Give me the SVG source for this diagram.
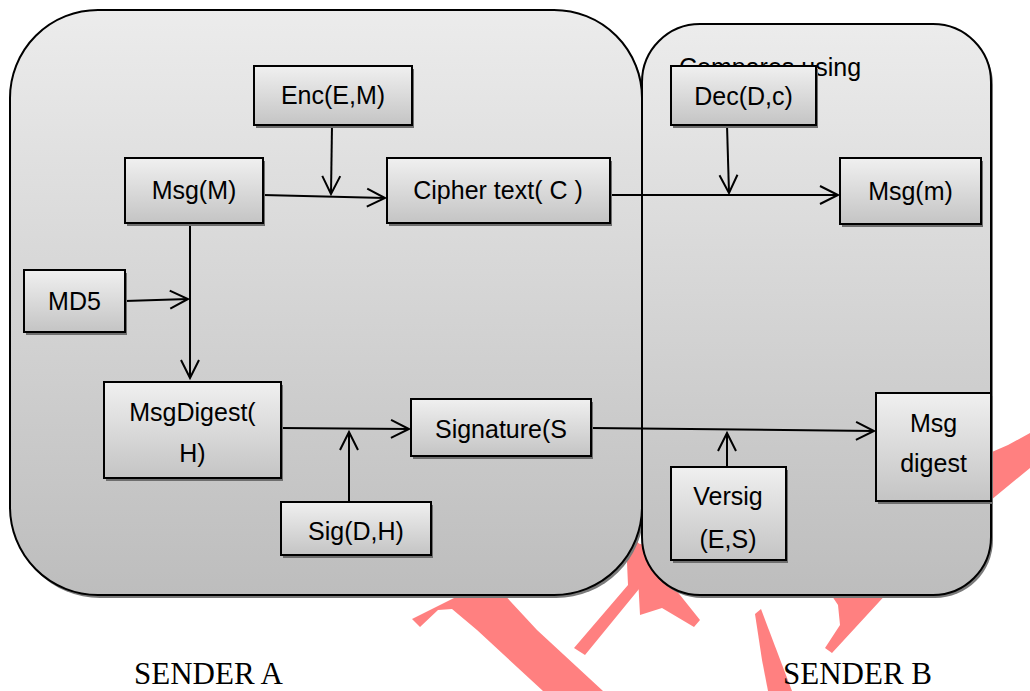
<svg xmlns="http://www.w3.org/2000/svg" width="1030" height="691" viewBox="0 0 1030 691">
<defs>
<linearGradient id="gPanel" x1="0" y1="0" x2="0" y2="1">
<stop offset="0" stop-color="#ececec"/>
<stop offset="1" stop-color="#bdbdbd"/>
</linearGradient>
<linearGradient id="gBox" x1="0" y1="0" x2="0" y2="1">
<stop offset="0" stop-color="#f0f0f0"/>
<stop offset="1" stop-color="#c4c4c4"/>
</linearGradient>
<marker id="arr" markerUnits="userSpaceOnUse" markerWidth="22" markerHeight="22" refX="19" refY="11" orient="auto">
<path d="M1,2 L19,11 L1,20" fill="none" stroke="#000" stroke-width="2"/>
</marker>
</defs>
<style>
.wm{fill:#ff8080;stroke:none}
.panel{fill:url(#gPanel);stroke:#000;stroke-width:2}
.pshadow{fill:#7a7a7a}
.box{fill:url(#gBox);stroke:#000;stroke-width:2}
.bshadow{fill:#6e6e6e}
.lbl{font-family:"Liberation Sans",Arial,sans-serif;font-size:25px;fill:#000;text-anchor:middle}
.cap{font-family:"Liberation Serif","Times New Roman",serif;font-size:31px;fill:#000}
.conn{fill:none;stroke:#000;stroke-width:2}
</style>
<g id="watermark">
<polygon class="wm" points="412,619 420,627 438,610 452,609 477,630 543,691 603,691 537,630 500,590 470,590"/>
<polygon class="wm" points="626,540 644,545 648,578 585,655 574,648 628,585"/>
<polygon class="wm" points="636,540 700,620 694,627 662,608 640,615"/>
<polygon class="wm" points="755,614 761,609 792,691 768,691 762,660"/>
<polygon class="wm" points="828,590 890,590 832,653 825,648 840,625 838,605"/>
<polygon class="wm" points="985,455 1008,445 1030,433 1030,468 985,505"/>
</g>
<g id="senderA-panel">
<rect class="pshadow" x="12" y="13" width="632" height="585" rx="88" ry="88"/>
<rect class="panel" x="10" y="10" width="632" height="585" rx="88" ry="88"/>
</g>
<g id="senderB-panel">
<rect class="pshadow" x="644" y="27" width="349" height="571" rx="58" ry="58"/>
<rect class="panel" x="642" y="24" width="349" height="571" rx="58" ry="58"/>
<text class="lbl" x="679" y="76" style="text-anchor:start">Compares using</text>
</g>
<g id="connectors">
<line class="conn" x1="263" y1="195" x2="385" y2="198" marker-end="url(#arr)"/>
<line class="conn" x1="332" y1="125" x2="331" y2="194" marker-end="url(#arr)"/>
<line class="conn" x1="190" y1="223" x2="190" y2="378" marker-end="url(#arr)"/>
<line class="conn" x1="125" y1="301" x2="188" y2="299" marker-end="url(#arr)"/>
<line class="conn" x1="281" y1="428" x2="409" y2="429" marker-end="url(#arr)"/>
<line class="conn" x1="349" y1="502" x2="349" y2="432" marker-end="url(#arr)"/>
<line class="conn" x1="610" y1="195" x2="838" y2="195" marker-end="url(#arr)"/>
<line class="conn" x1="727" y1="125" x2="729" y2="193" marker-end="url(#arr)"/>
<line class="conn" x1="591" y1="428" x2="874" y2="431" marker-end="url(#arr)"/>
<line class="conn" x1="727" y1="467" x2="727" y2="433" marker-end="url(#arr)"/>
</g>
<g id="enc">
<rect class="bshadow" x="256" y="69" width="158" height="59"/>
<rect class="box" x="254" y="66" width="158" height="59"/>
<text class="lbl" x="333" y="104">Enc(E,M)</text>
</g>
<g id="msgM">
<rect class="bshadow" x="127" y="161" width="138" height="65"/>
<rect class="box" x="125" y="158" width="138" height="65"/>
<text class="lbl" x="194" y="199">Msg(M)</text>
</g>
<g id="cipher">
<rect class="bshadow" x="389" y="161" width="223" height="65"/>
<rect class="box" x="387" y="158" width="223" height="65"/>
<text class="lbl" x="498" y="199">Cipher text( C )</text>
</g>
<g id="md5">
<rect class="bshadow" x="26" y="273" width="101" height="62"/>
<rect class="box" x="24" y="270" width="101" height="62"/>
<text class="lbl" x="74.5" y="310">MD5</text>
</g>
<g id="msgdigestH">
<rect class="bshadow" x="106" y="385" width="177" height="96"/>
<rect class="box" x="104" y="382" width="177" height="96"/>
<text class="lbl" x="192.5" y="421">MsgDigest(</text>
<text class="lbl" x="192.5" y="462">H)</text>
</g>
<g id="signature">
<rect class="bshadow" x="413" y="402" width="180" height="57"/>
<rect class="box" x="411" y="399" width="180" height="57"/>
<text class="lbl" x="501" y="438">Signature(S</text>
</g>
<g id="sig">
<rect class="bshadow" x="283" y="505" width="150" height="53"/>
<rect class="box" x="281" y="502" width="150" height="53"/>
<text class="lbl" x="356" y="540">Sig(D,H)</text>
</g>
<g id="dec">
<rect class="bshadow" x="673" y="69" width="145" height="59"/>
<rect class="box" x="671" y="66" width="145" height="59"/>
<text class="lbl" x="743.5" y="105">Dec(D,c)</text>
</g>
<g id="msgm">
<rect class="bshadow" x="842" y="161" width="141" height="66"/>
<rect class="box" x="840" y="158" width="141" height="66"/>
<text class="lbl" x="910.5" y="200">Msg(m)</text>
</g>
<g id="msgdigest">
<rect class="bshadow" x="878" y="396" width="115" height="108"/>
<rect class="box" x="876" y="393" width="115" height="108"/>
<text class="lbl" x="933.5" y="432">Msg</text>
<text class="lbl" x="933.5" y="472">digest</text>
</g>
<g id="versig">
<rect class="bshadow" x="673" y="470" width="115" height="93"/>
<rect class="box" x="671" y="467" width="115" height="93"/>
<text class="lbl" x="728" y="505">Versig</text>
<text class="lbl" x="728" y="548">(E,S)</text>
</g>
<g id="captions">
<text class="cap" x="134" y="684">SENDER A</text>
<text class="cap" x="783" y="684">SENDER B</text>
</g>
</svg>
